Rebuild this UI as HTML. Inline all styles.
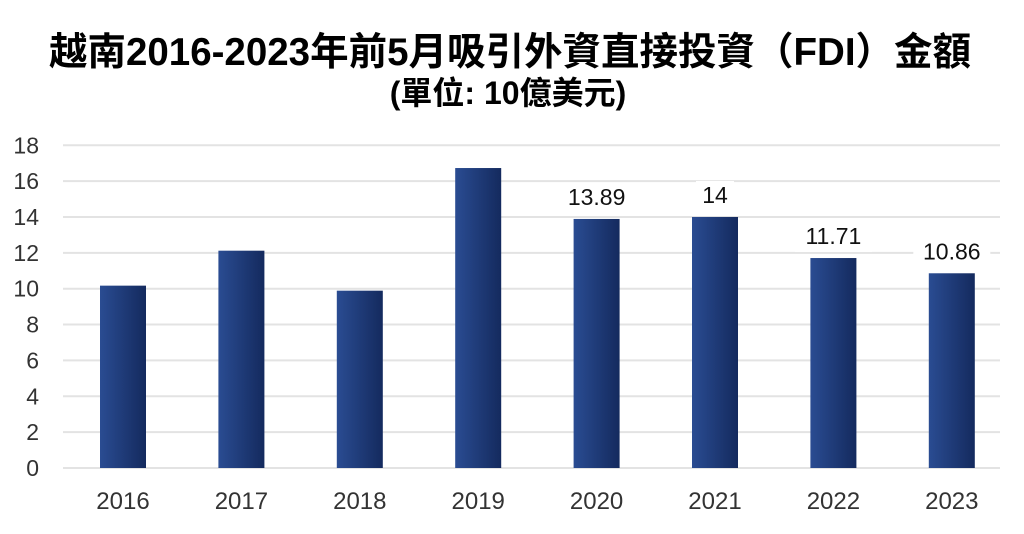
<!DOCTYPE html>
<html><head><meta charset="utf-8"><style>
html,body{margin:0;padding:0;background:#fff;width:1024px;height:534px;overflow:hidden}
.t{position:absolute;left:0;width:1024px;text-align:center;font-family:"Liberation Sans","Noto Sans CJK TC",sans-serif;font-weight:bold;color:#000;white-space:nowrap}
</style></head><body>
<div class="t" style="top:21px;font-size:38.5px;left:-2px">越南2016-2023年前5月吸引外資直接投資（FDI）金額</div>
<div class="t" style="top:68px;font-size:32px;left:-4px">(單位: 10億美元)</div>
<svg id="c" width="1024" height="534" style="position:absolute;left:0;top:0">
<defs><linearGradient id="g" x1="0" x2="1" y1="0" y2="0"><stop offset="0" stop-color="#2a4c92"/><stop offset="1" stop-color="#142a5e"/></linearGradient></defs>
</svg>
<script>
const categories=["2016","2017","2018","2019","2020","2021","2022","2023"];
const values=[10.17,12.12,9.89,16.73,13.89,14,11.71,10.86];
const labels=["","","","","13.89","14","11.71","10.86"];
const ticks=[0,2,4,6,8,10,12,14,16,18];
const svg=document.getElementById('c');const NS="http://www.w3.org/2000/svg";
const y0=468,pu=17.93,x0=123,step=118.4,bw=46;
const Y=v=>y0-v*pu, X=i=>x0+i*step;
function mk(t,a){const e=document.createElementNS(NS,t);for(const k in a)e.setAttribute(k,a[k]);svg.appendChild(e);return e;}
ticks.forEach(v=>{
 const l=mk('line',{x1:63,x2:1000,y1:Y(v),y2:Y(v),stroke:'#e3e3e3','stroke-width':2});
 
 
 const t=mk('text',{x:39,y:Y(v)+8,'text-anchor':'end','font-size':23,fill:'#333','font-family':'Liberation Sans, sans-serif'});
 t.textContent=v;
 
 
});
categories.forEach((c,i)=>{
 const r=mk('rect',{x:X(i)-bw/2,y:Y(values[i]),width:bw,height:values[i]*pu,fill:'url(#g)'});
 
 
 const t=mk('text',{x:X(i),y:509,'text-anchor':'middle','font-size':24,fill:'#333','font-family':'Liberation Sans, sans-serif'});
 t.textContent=c;
 
 
 if(labels[i]){
  const w=labels[i].length*13+12;
  const b=mk('rect',{x:X(i)-w/2,y:Y(values[i])-36,width:w,height:30,fill:'#fff'});
  
  
  const d=mk('text',{x:X(i),y:Y(values[i])-14,'text-anchor':'middle','font-size':23,fill:'#111','font-family':'Liberation Sans, sans-serif'});
  d.textContent=labels[i];
  
  
 }
});
</script>
</body></html>
